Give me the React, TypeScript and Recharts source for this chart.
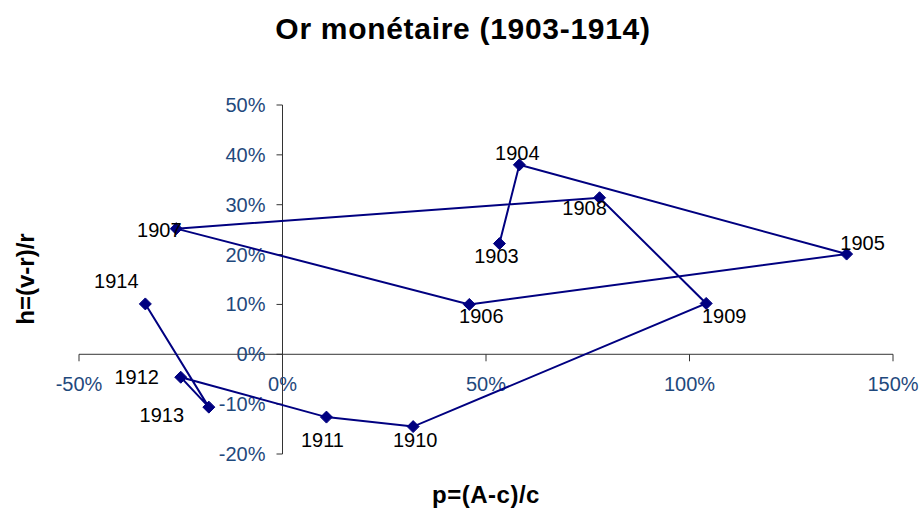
import React from 'react';
import { ScatterChart, Scatter, XAxis, YAxis, ReferenceLine, ReferenceDot } from 'recharts';

const years = [1903, 1904, 1905, 1906, 1907, 1908, 1909, 1910, 1911, 1912, 1913, 1914];
const pValues = [0.533, 0.582, 1.386, 0.459, -0.261, 0.779, 1.041, 0.321, 0.108, -0.25, -0.181, -0.337];
const hValues = [0.222, 0.38, 0.201, 0.1, 0.252, 0.314, 0.102, -0.145, -0.126, -0.046, -0.106, 0.101];
const xTicks = [-0.5, 0, 0.5, 1, 1.5];
const yTicks = [-0.2, -0.1, 0, 0.1, 0.2, 0.3, 0.4, 0.5];

// label placement relative to each point (dx, dy)
const labelOffsets: [number, number][] = [
  [-3, 12], [-2, -12], [16, -11], [12, 12], [-17, 1], [-15, 10],
  [18, 13], [2, 13], [-4, 23], [-44, 0], [-47, 8], [-29, -23],
];

const data = years.map((y, i) => ({ year: y, p: pValues[i], h: hValues[i] }));
const pct = (v: number) => `${Math.round(v * 100)}%`;

const FONT = "Arial, 'Liberation Sans', sans-serif";
const NAVY = '#000080';
const TICK_COLOR = '#1F497D';
const AXIS_COLOR = '#333333';

const PointShape = (props: any) => {
  const { cx, cy, payload } = props;
  const idx = years.indexOf(payload.year);
  const [dx, dy] = labelOffsets[idx] || [0, 0];
  const s = 6;
  return (
    <g>
      <polygon
        points={`${cx},${cy - s} ${cx + s},${cy} ${cx},${cy + s} ${cx - s},${cy}`}
        fill={NAVY}
        stroke={NAVY}
      />
      <text
        x={cx + dx}
        y={cy + dy}
        textAnchor="middle"
        dominantBaseline="central"
        fontFamily={FONT}
        fontSize={20}
        fill="#000"
      >
        {payload.year}
      </text>
    </g>
  );
};

export default function App() {
  return (
    <div style={{ position: 'absolute', left: 0, top: 0, width: 921, height: 510, background: '#fff' }}>
      <ScatterChart width={921} height={510} margin={{ top: 105, right: 28, bottom: 56, left: 79 }}>
        <XAxis type="number" dataKey="p" domain={[-0.5, 1.5]} allowDataOverflow hide />
        <YAxis type="number" dataKey="h" domain={[-0.2, 0.5]} allowDataOverflow hide />
        <ReferenceLine y={0} stroke={AXIS_COLOR} strokeWidth={1} />
        <ReferenceLine x={0} stroke={AXIS_COLOR} strokeWidth={1} />
        {xTicks.map((t) => (
          <ReferenceDot
            key={'x' + t}
            x={t}
            y={0}
            r={3}
            ifOverflow="visible"
            shape={(p: any) => (
              <g>
                <line x1={p.cx} y1={p.cy} x2={p.cx} y2={p.cy + 7} stroke={AXIS_COLOR} strokeWidth={1} />
                <text
                  x={p.cx}
                  y={p.cy + 30}
                  textAnchor="middle"
                  dominantBaseline="central"
                  fontFamily={FONT}
                  fontSize={20}
                  fill={TICK_COLOR}
                >
                  {pct(t)}
                </text>
              </g>
            )}
          />
        ))}
        {yTicks.map((t) => (
          <ReferenceDot
            key={'y' + t}
            x={0}
            y={t}
            r={3}
            ifOverflow="visible"
            shape={(p: any) => (
              <g>
                <line x1={p.cx - 6} y1={p.cy} x2={p.cx} y2={p.cy} stroke={AXIS_COLOR} strokeWidth={1} />
                <text
                  x={p.cx - 17}
                  y={p.cy}
                  textAnchor="end"
                  dominantBaseline="central"
                  fontFamily={FONT}
                  fontSize={20}
                  fill={TICK_COLOR}
                >
                  {pct(t)}
                </text>
              </g>
            )}
          />
        ))}
        <Scatter
          data={data}
          dataKey="h"
          fill={NAVY}
          line={{ stroke: NAVY, strokeWidth: 2 }}
          shape={PointShape}
          isAnimationActive={false}
        />
      </ScatterChart>
      <svg
        width={921}
        height={510}
        style={{ position: 'absolute', left: 0, top: 0, pointerEvents: 'none' }}
      >
        <text x={463} y={28} textAnchor="middle" dominantBaseline="central" fontFamily={FONT} fontWeight="bold" fontSize={30} letterSpacing={0.7} fill="#000">
          Or monétaire (1903-1914)
        </text>
        <text x={486} y={494} textAnchor="middle" dominantBaseline="central" fontFamily={FONT} fontWeight="bold" fontSize={24} letterSpacing={0.5} fill="#000">
          p=(A-c)/c
        </text>
        <text
          x={25}
          y={279}
          textAnchor="middle"
          dominantBaseline="central"
          fontFamily={FONT}
          fontWeight="bold"
          fontSize={24}
          fill="#000"
          transform="rotate(-90 25 279)"
        >
          h=(v-r)/r
        </text>
      </svg>
    </div>
  );
}
